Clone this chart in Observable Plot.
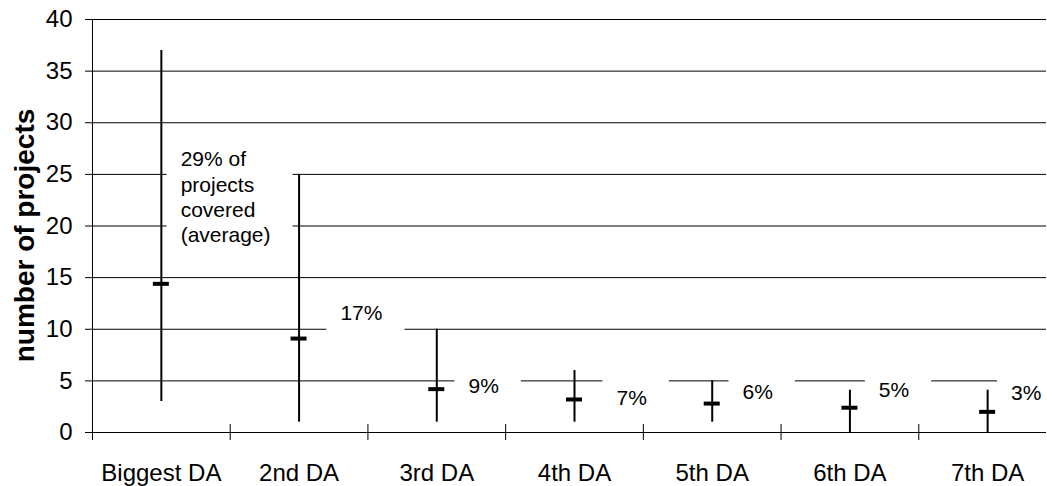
<!DOCTYPE html>
<html><head><meta charset="utf-8">
<script src="https://cdn.jsdelivr.net/npm/d3@7"></script>
<script src="https://cdn.jsdelivr.net/npm/@observablehq/plot@0.6"></script>
<style>html,body{margin:0;padding:0;background:#fff;}</style>
</head><body><div id="chart"></div>
<script>
const categories = ["Biggest DA", "2nd DA", "3rd DA", "4th DA", "5th DA", "6th DA", "7th DA"];
const maxProjects = [37, 25, 10, 6, 5, 4.1, 4.1];
const minProjects = [3, 1, 1, 1, 1, 0, 0];
const avgProjects = [14.4, 9.1, 4.2, 3.2, 2.8, 2.4, 2.0];
const coverageLabels = ["29% of\nprojects\ncovered\n(average)", "17%", "9%", "7%", "6%", "5%", "3%"];
const labelX = [0.64, 1.8, 2.73, 3.805, 4.72, 5.71, 6.67];
const labelY = [22.9, 11.7, 4.65, 3.4, 4.05, 4.25, 3.9];
const yTicks = [0, 5, 10, 15, 20, 25, 30, 35, 40];

const rows = categories.map((c, i) => ({i, c, max: maxProjects[i], min: minProjects[i], avg: avgProjects[i]}));
const annotations = coverageLabels.map((t, i) => ({text: t, x: labelX[i], y: labelY[i]}));
const boundaries = d3.range(categories.length + 1);

const chart = Plot.plot({
  width: 1047,
  height: 486,
  marginLeft: 92,
  marginRight: 1,
  marginTop: 19,
  marginBottom: 54,
  style: {fontFamily: "'Liberation Sans', Arial, sans-serif", fontSize: "24px", color: "#000", background: "#fff"},
  x: {domain: [0, categories.length], range: [92, 1056], axis: null},
  y: {domain: [0, 40], ticks: yTicks, tickSize: 7, tickPadding: 13, label: null},
  marks: [
    Plot.ruleY(yTicks, {stroke: "#000", strokeWidth: 1}),
    Plot.text(annotations, {x: "x", y: "y", text: "text", textAnchor: "start", lineAnchor: "middle", fontSize: 21, lineHeight: 1.2}),
    Plot.ruleX(rows, {x: d => d.i + 0.5, y1: "min", y2: "max", strokeWidth: 2, stroke: "#000"}),
    Plot.ruleY(rows, {y: "avg", x1: d => d.i + 0.5, x2: d => d.i + 0.5, insetLeft: -8, insetRight: -8, strokeWidth: 4, stroke: "#000"}),
    Plot.ruleX([0], {x: d => d, y1: 40, y2: 0, insetBottom: -8, stroke: "#000"}),
    Plot.ruleX(boundaries, {x: d => d, y1: 0, y2: 0, insetTop: -8, insetBottom: -8, stroke: "#000"}),
    Plot.text(rows, {x: d => d.i + 0.5, y: 0, text: "c", lineAnchor: "top", dy: 31, fontSize: 24}),
    Plot.text(["number of projects"], {frameAnchor: "left", text: d => d, rotate: -90, dx: -67, dy: 9.5, textAnchor: "middle", lineAnchor: "middle", fontWeight: "bold", fontSize: 28})
  ]
});
document.getElementById("chart").appendChild(chart);

// white text boxes behind the coverage labels
const padL = 14, padR = 22, padV = 8;
const keys = new Set(coverageLabels.map(s => s.replace(/\s/g, "")));
chart.querySelectorAll("text").forEach(t => {
  if (!keys.has(t.textContent.replace(/\s/g, ""))) return;
  const b = t.getBBox();
  const r = document.createElementNS("http://www.w3.org/2000/svg", "rect");
  r.setAttribute("x", b.x - padL);
  r.setAttribute("y", b.y - padV);
  r.setAttribute("width", b.width + padL + padR);
  r.setAttribute("height", b.height + 2 * padV);
  r.setAttribute("fill", "#fff");
  const tr = t.getAttribute("transform");
  if (tr) r.setAttribute("transform", tr);
  t.parentNode.insertBefore(r, t);
});
</script>
</body></html>
